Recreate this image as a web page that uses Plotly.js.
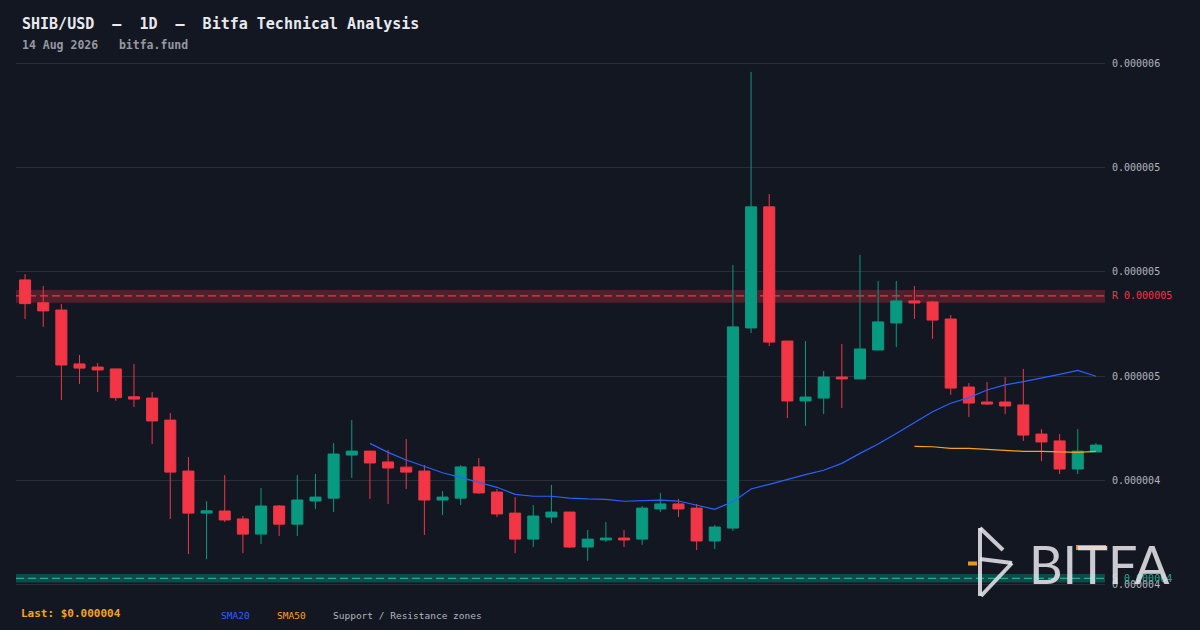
<!DOCTYPE html>
<html>
<head>
<meta charset="utf-8">
<script src="https://cdn.plot.ly/plotly-3.0.1.min.js"></script>
<style>
  html, body { margin: 0; padding: 0; background: #131722; }
  #chart { width: 1200px; height: 630px; }
</style>
</head>
<body>
<div id="chart"></div>
<script>
// ── Daily SHIB/USD candles, 60 sessions ending 14 Aug 2026 ──────────────────
const LAST_DAY = Date.UTC(2026, 7, 14);
const DAY_MS = 86400000;
const N_DAYS = 60;

const open = [
  4.962e-6, 4.852e-6, 4.817e-6, 4.558e-6, 4.543e-6, 4.534e-6, 4.400e-6, 4.394e-6, 4.288e-6, 4.043e-6,
  3.841e-6, 3.851e-6, 3.813e-6, 3.740e-6, 3.875e-6, 3.788e-6, 3.899e-6, 3.913e-6, 4.120e-6, 4.139e-6,
  4.087e-6, 4.062e-6, 4.043e-6, 3.904e-6, 3.913e-6, 4.063e-6, 3.942e-6, 3.841e-6, 3.716e-6, 3.822e-6,
  3.846e-6, 3.678e-6, 3.712e-6, 3.721e-6, 3.716e-6, 3.861e-6, 3.885e-6, 3.865e-6, 3.707e-6, 3.769e-6,
  4.731e-6, 5.313e-6, 4.668e-6, 4.380e-6, 4.394e-6, 4.495e-6, 4.486e-6, 4.625e-6, 4.755e-6, 4.861e-6,
  4.856e-6, 4.774e-6, 4.447e-6, 4.375e-6, 4.375e-6, 4.361e-6, 4.221e-6, 4.188e-6, 4.053e-6, 4.135e-6
];
const high = [
  4.990e-6, 4.933e-6, 4.846e-6, 4.601e-6, 4.563e-6, 4.535e-6, 4.558e-6, 4.423e-6, 4.322e-6, 4.111e-6,
  3.899e-6, 4.024e-6, 3.827e-6, 3.962e-6, 3.880e-6, 4.024e-6, 4.029e-6, 4.178e-6, 4.288e-6, 4.140e-6,
  4.144e-6, 4.197e-6, 4.072e-6, 3.947e-6, 4.072e-6, 4.106e-6, 3.957e-6, 3.918e-6, 3.880e-6, 3.976e-6,
  3.847e-6, 3.760e-6, 3.798e-6, 3.760e-6, 3.875e-6, 3.938e-6, 3.909e-6, 3.885e-6, 3.784e-6, 5.034e-6,
  5.962e-6, 5.375e-6, 4.669e-6, 4.668e-6, 4.524e-6, 4.654e-6, 5.082e-6, 4.957e-6, 4.957e-6, 4.933e-6,
  4.861e-6, 4.793e-6, 4.466e-6, 4.471e-6, 4.495e-6, 4.534e-6, 4.245e-6, 4.221e-6, 4.245e-6, 4.178e-6
];
const low = [
  4.774e-6, 4.736e-6, 4.385e-6, 4.462e-6, 4.423e-6, 4.381e-6, 4.351e-6, 4.173e-6, 3.813e-6, 3.644e-6,
  3.620e-6, 3.798e-6, 3.649e-6, 3.692e-6, 3.731e-6, 3.731e-6, 3.861e-6, 3.846e-6, 4.010e-6, 3.909e-6,
  3.885e-6, 3.957e-6, 3.736e-6, 3.832e-6, 3.880e-6, 3.933e-6, 3.822e-6, 3.649e-6, 3.678e-6, 3.793e-6,
  3.673e-6, 3.611e-6, 3.702e-6, 3.678e-6, 3.688e-6, 3.846e-6, 3.822e-6, 3.663e-6, 3.668e-6, 3.755e-6,
  4.707e-6, 4.644e-6, 4.298e-6, 4.260e-6, 4.317e-6, 4.346e-6, 4.485e-6, 4.624e-6, 4.639e-6, 4.774e-6,
  4.678e-6, 4.409e-6, 4.303e-6, 4.361e-6, 4.317e-6, 4.188e-6, 4.091e-6, 4.029e-6, 4.029e-6, 4.134e-6
];
const close = [
  4.848e-6, 4.813e-6, 4.553e-6, 4.538e-6, 4.529e-6, 4.396e-6, 4.389e-6, 4.284e-6, 4.038e-6, 3.841e-6,
  3.852e-6, 3.808e-6, 3.740e-6, 3.875e-6, 3.788e-6, 3.904e-6, 3.918e-6, 4.125e-6, 4.139e-6, 4.082e-6,
  4.058e-6, 4.038e-6, 3.904e-6, 3.918e-6, 4.063e-6, 3.938e-6, 3.837e-6, 3.716e-6, 3.827e-6, 3.846e-6,
  3.678e-6, 3.716e-6, 3.721e-6, 3.712e-6, 3.865e-6, 3.885e-6, 3.861e-6, 3.707e-6, 3.774e-6, 4.736e-6,
  5.313e-6, 4.663e-6, 4.380e-6, 4.399e-6, 4.495e-6, 4.486e-6, 4.630e-6, 4.760e-6, 4.861e-6, 4.851e-6,
  4.769e-6, 4.442e-6, 4.370e-6, 4.365e-6, 4.356e-6, 4.216e-6, 4.183e-6, 4.053e-6, 4.139e-6, 4.168e-6
];

// Moving averages as drawn (first value sits on session index *_START)
const SMA20_START = 19;
const sma20 = [
  4.176e-6, 4.133e-6, 4.096e-6, 4.064e-6, 4.035e-6, 4.013e-6, 3.990e-6, 3.965e-6, 3.931e-6, 3.922e-6,
  3.922e-6, 3.913e-6, 3.909e-6, 3.907e-6, 3.898e-6, 3.901e-6, 3.903e-6, 3.899e-6, 3.880e-6, 3.859e-6,
  3.896e-6, 3.957e-6, 3.979e-6, 4.003e-6, 4.026e-6, 4.047e-6, 4.080e-6, 4.128e-6, 4.173e-6, 4.224e-6,
  4.277e-6, 4.328e-6, 4.369e-6, 4.396e-6, 4.433e-6, 4.457e-6, 4.473e-6, 4.489e-6, 4.508e-6, 4.527e-6,
  4.499e-6
];
const SMA50_START = 49;
const sma50 = [
  4.162e-6, 4.160e-6, 4.152e-6, 4.152e-6, 4.147e-6, 4.143e-6, 4.138e-6, 4.138e-6, 4.135e-6, 4.133e-6,
  4.138e-6
];

// Support / resistance zones
const resistance = { lo: 4.852e-6, mid: 4.885e-6, hi: 4.913e-6, label: 'R 0.000005' };
const support    = { lo: 3.507e-6, mid: 3.527e-6, hi: 3.548e-6, label: 'S 0.000004' };

// Price axis
const tickVals  = [3.5e-6, 4.0e-6, 4.5e-6, 5.0e-6, 5.5e-6, 6.0e-6];
const tickTexts = ['0.000004', '0.000004', '0.000005', '0.000005', '0.000005', '0.000006'];
const Y_RANGE = [3.481e-6, 6.019e-6];

// ── Helpers ─────────────────────────────────────────────────────────────────
const dates = [];
for (let i = 0; i < N_DAYS; i++)
    dates.push(new Date(LAST_DAY - (N_DAYS - 1 - i) * DAY_MS).toISOString().slice(0, 10));
const firstMs = LAST_DAY - (N_DAYS - 1) * DAY_MS;

// plot area in page pixels: x 16..1105, y 60..588
const M = { l: 16, r: 95, t: 60, b: 42 };
const PW = 1200 - M.l - M.r, PH = 630 - M.t - M.b;
const px = p => (p - M.l) / PW;
const py = p => (630 - M.b - p) / PH;
const nb = s => s.replace(/ /g, '\u00a0');

const MONO = '"DejaVu Sans Mono", monospace';
const UP = '#089981', DOWN = '#f23645';

// ── Traces ──────────────────────────────────────────────────────────────────
const candles = {
    type: 'candlestick',
    x: dates, open, high, low, close,
    increasing: { line: { color: UP, width: 1 }, fillcolor: UP },
    decreasing: { line: { color: DOWN, width: 1 }, fillcolor: DOWN },
    whiskerwidth: 0,
    hoverinfo: 'skip', showlegend: false
};
const t_sma20 = {
    type: 'scatter', mode: 'lines',
    x: dates.slice(SMA20_START), y: sma20,
    line: { color: '#2962ff', width: 1.2 },
    hoverinfo: 'skip', showlegend: false
};
const t_sma50 = {
    type: 'scatter', mode: 'lines',
    x: dates.slice(SMA50_START), y: sma50,
    line: { color: '#f7a21b', width: 1.2 },
    hoverinfo: 'skip', showlegend: false
};

// ── Shapes: zones + logo ────────────────────────────────────────────────────
const zone = (z, fill, dash) => [
    { type: 'rect', xref: 'paper', yref: 'y', x0: 0, x1: 1, y0: z.lo, y1: z.hi,
      fillcolor: fill, line: { width: 0 }, layer: 'below' },
    { type: 'line', xref: 'paper', yref: 'y', x0: 0, x1: 1, y0: z.mid, y1: z.mid,
      line: { color: dash, width: 1.2, dash: '8px,4px' }, layer: 'below' }
];
const seg = (a, b, c, d, col, w) => ({
    type: 'line', xref: 'paper', yref: 'paper',
    x0: px(a), y0: py(b), x1: px(c), y1: py(d),
    line: { color: col, width: w }
});
const LOGO = 'rgba(228,228,232,0.88)';
const ORANGE = '#e8961e';
const shapes = [
    ...zone(resistance, 'rgba(242,54,69,0.28)', '#f23645'),
    ...zone(support, 'rgba(8,153,129,0.40)', '#22ab94'),
    seg(980, 528, 980, 596, LOGO, 4),
    seg(980, 528, 1003, 550, LOGO, 4),
    seg(980, 559, 1012, 563, LOGO, 4),
    seg(1012, 563, 981, 596, LOGO, 4),
    seg(968, 563.5, 977, 563.5, ORANGE, 4),
    seg(1076, 547.5, 1106, 547.5, ORANGE, 5)
];

// ── Text ────────────────────────────────────────────────────────────────────
const note = (text, x, y, size, color, bold, extra) => Object.assign({
    text: nb(text), xref: 'paper', yref: 'paper', x: px(x), y: py(y),
    xanchor: 'left', yanchor: 'middle', showarrow: false,
    font: { family: MONO, size, color, weight: bold ? 'bold' : 'normal' }
}, extra || {});

const annotations = [
    note('SHIB/USD  –  1D  –  Bitfa Technical Analysis', 20, 24, 15, '#e8eaf0', true),
    note('14 Aug 2026   bitfa.fund', 20, 45, 11.5, '#9598a1', true),
    note('Last: $0.000004', 19, 613, 11, '#f7a21b', true),
    note('SMA20', 219, 615, 9.5, '#2962ff', false),
    note('SMA50', 275, 615, 9.5, '#f7a21b', false),
    note('Support / Resistance zones', 331, 615, 9.5, '#b2b5be', false),
    { text: resistance.label, xref: 'paper', yref: 'y', x: 1, y: resistance.mid,
      xanchor: 'left', yanchor: 'middle', xshift: 5, showarrow: false,
      font: { family: MONO, size: 10, color: '#f23645' } },
    { text: support.label, xref: 'paper', yref: 'y', x: 1, y: support.mid,
      xanchor: 'left', yanchor: 'middle', xshift: 5, showarrow: false,
      font: { family: MONO, size: 10, color: '#22ab94' } },
    note('BITFA', 1027, 564, 52, LOGO, false, { font: { family: 'Lato, "Noto Sans", sans-serif', size: 52, color: LOGO } })
];

const layout = {
    width: 1200, height: 630,
    margin: M,
    paper_bgcolor: '#131722', plot_bgcolor: '#131722',
    boxgap: 0.13, boxgroupgap: 0.3,
    xaxis: {
        type: 'date', visible: false,
        range: [firstMs - DAY_MS / 2, LAST_DAY + DAY_MS / 2],
        rangeslider: { visible: false }, fixedrange: true
    },
    yaxis: {
        side: 'right', range: Y_RANGE,
        tickvals: tickVals, ticktext: tickTexts,
        ticks: '', ticklabelstandoff: 6,
        tickfont: { family: MONO, size: 10, color: '#b2b5be' },
        showgrid: true, gridcolor: '#2a2e39', gridwidth: 1,
        zeroline: false, showline: false, fixedrange: true
    },
    shapes, annotations,
    showlegend: false
};

Plotly.newPlot('chart', [candles, t_sma20, t_sma50], layout, { displayModeBar: false, staticPlot: true });
</script>
</body>
</html>
